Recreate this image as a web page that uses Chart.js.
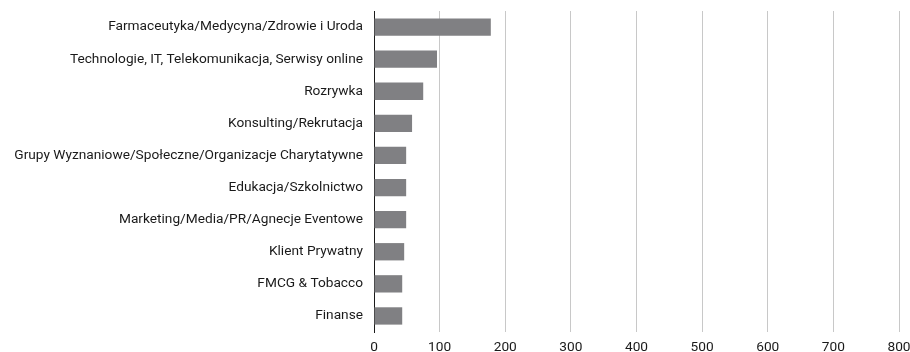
<!DOCTYPE html>
<html>
<head>
<meta charset="utf-8">
<script src="https://cdn.jsdelivr.net/npm/chart.js"></script>
<style>
  html, body { margin: 0; padding: 0; background: #fff; }
  #wrap { width: 910px; height: 352px; }
</style>
</head>
<body>
<div id="wrap"><canvas id="chart"></canvas></div>
<script>
// kategorie i wartości
const categories = [
  'Farmaceutyka/Medycyna/Zdrowie i Uroda',
  'Technologie, IT, Telekomunikacja, Serwisy online',
  'Rozrywka',
  'Konsulting/Rekrutacja',
  'Grupy Wyznaniowe/Społeczne/Organizacje Charytatywne',
  'Edukacja/Szkolnictwo',
  'Marketing/Media/PR/Agnecje Eventowe',
  'Klient Prywatny',
  'FMCG & Tobacco',
  'Finanse'
];
const values = [178, 96, 75, 58, 49, 49, 49, 46, 43, 43];
const xTicks = [0, 100, 200, 300, 400, 500, 600, 700, 800];

const font = { family: 'Roboto', size: 13.7 };

new Chart(document.getElementById('chart'), {
  type: 'bar',
  data: {
    labels: categories,
    datasets: [{
      data: values,
      backgroundColor: '#808083',
      barPercentage: 0.54,
      categoryPercentage: 1
    }]
  },
  options: {
    indexAxis: 'y',
    responsive: true,
    maintainAspectRatio: false,
    animation: false,
    layout: { padding: { top: 11, right: 0, left: 0, bottom: 0 } },
    plugins: { legend: { display: false }, tooltip: { enabled: false } },
    scales: {
      x: {
        min: xTicks[0],
        max: xTicks[xTicks.length - 1],
        afterBuildTicks: axis => { axis.ticks = xTicks.map(v => ({ value: v })); },
        afterFit: axis => { axis.height = 20; axis.paddingRight = 11; axis.paddingLeft = 0; },
        grid: {
          color: ctx => ctx.tick && ctx.tick.value === 0 ? 'rgba(0,0,0,0)' : '#c8c8c8',
          drawTicks: false
        },
        border: { display: false },
        ticks: { color: '#1a1a1a', font: font, padding: 7 }
      },
      y: {
        afterFit: axis => { axis.width = 374; axis.paddingTop = 0; axis.paddingBottom = 0; },
        grid: { display: false, drawTicks: false },
        border: { display: true, color: '#1a1a1a', width: 1 },
        ticks: { color: '#1a1a1a', font: font, padding: 11 }
      }
    }
  }
});
</script>
</body>
</html>
